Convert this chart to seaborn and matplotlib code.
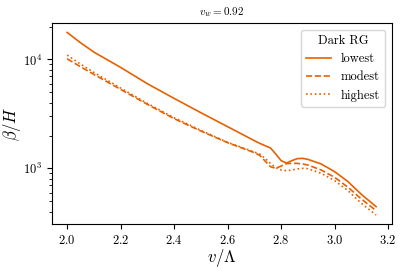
import numpy as np
import pandas as pd
import seaborn as sns
import matplotlib
matplotlib.use('Agg')
import matplotlib.pyplot as plt

# values
v_over_lambda = [2.0, 2.05, 2.1, 2.2, 2.3, 2.4, 2.5, 2.6, 2.7, 2.72, 2.74, 2.76,
                 2.78, 2.8, 2.82, 2.84, 2.86, 2.88, 2.9, 2.95, 3.0, 3.05, 3.1, 3.155]
beta_lowest = [17690, 14220, 11675, 8445, 5982, 4387, 3241, 2412, 1794, 1696, 1614, 1540,
               1353, 1176, 1119, 1176, 1227, 1236, 1209, 1096, 932, 755, 577, 445]
beta_modest = [10141, 8564, 7284, 5306, 3866, 2856, 2200, 1720, 1393, 1316, 1168, 1036,
               1000, 1050, 1104, 1111, 1111, 1096, 1073, 965, 827, 670, 523, 409]
beta_highest = [10960, 9062, 7600, 5458, 3948, 2916, 2232, 1732, 1412, 1353, 1236, 1111,
                1014, 965, 952, 965, 986, 1000, 993, 900, 771, 624, 477, 373]
rg_labels = ['lowest', 'modest', 'highest']

df = pd.concat([
    pd.DataFrame({'v': v_over_lambda, 'beta': b, 'Dark RG': lab})
    for b, lab in zip([beta_lowest, beta_modest, beta_highest], rg_labels)
])

plt.rcParams['font.family'] = 'serif'
plt.rcParams['font.serif'] = ['cmr10']
plt.rcParams['mathtext.fontset'] = 'cm'
plt.rcParams['axes.formatter.use_mathtext'] = True

fig = plt.figure(figsize=(4.07, 2.71), dpi=100)
ax = fig.add_axes([0.127, 0.173, 0.835, 0.741])

sns.lineplot(data=df, x='v', y='beta', style='Dark RG', style_order=rg_labels,
             dashes=['', (3.7, 1.6), (1, 1.65)], color='#e66101', lw=1.2, ax=ax)

ax.set_yscale('log')
ax.set_xlabel(r'$v/\Lambda$', fontsize=12)
ax.set_ylabel(r'$\beta/H$', fontsize=12)
ax.xaxis.set_label_coords(0.5, -0.113)
ax.yaxis.set_label_coords(-0.085, 0.5)
ax.set_title(r'$v_w = 0.92$', fontsize=8)
ax.tick_params(labelsize=9)
sns.move_legend(ax, 'upper right', title='Dark RG', fontsize=9, title_fontsize=9)

fig.savefig('out.png', dpi=100)
